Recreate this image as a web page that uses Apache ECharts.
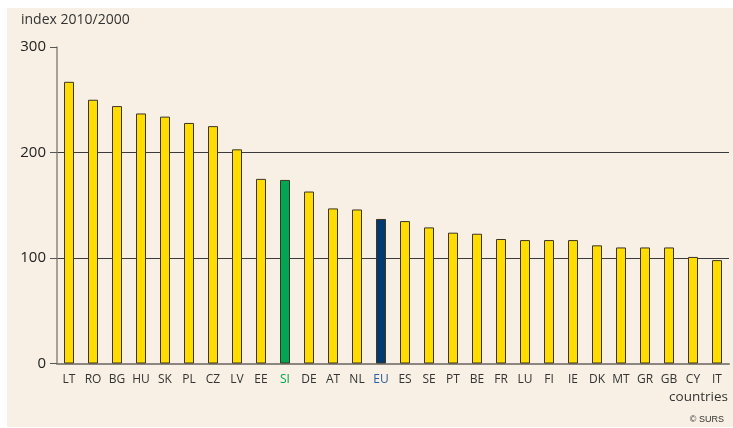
<!DOCTYPE html>
<html>
<head>
<meta charset="utf-8">
<script src="https://cdn.jsdelivr.net/npm/echarts@6/dist/echarts.min.js"></script>
<style>
  html, body { margin: 0; padding: 0; background: #fff; }
  #chart {
    position: absolute;
    left: 7px;
    top: 8px;
    width: 726px;
    height: 419px;
    background: #f8f0e4;
  }
</style>
</head>
<body>
<div id="chart"></div>
<script>
const countries = ['LT', 'RO', 'BG', 'HU', 'SK', 'PL', 'CZ', 'LV', 'EE', 'SI', 'DE', 'AT', 'NL', 'EU',
  'ES', 'SE', 'PT', 'BE', 'FR', 'LU', 'FI', 'IE', 'DK', 'MT', 'GR', 'GB', 'CY', 'IT']
const indexValues = [267, 250, 244, 237, 234, 228, 225, 203, 175, 174, 163, 147, 146, 137,
  135, 129, 124, 123, 118, 117, 117, 117, 112, 110, 110, 110, 101, 98]
const yTicks = [0, 100, 200, 300]

const barColors = { SI: '#00a651', EU: '#003a70' }
const labelColors = { SI: '#00a651', EU: '#2a5d9f' }

const chart = echarts.init(document.getElementById('chart'))

const fontFamily = '"Open Sans", "Noto Sans", sans-serif'

chart.setOption({
  animation: false,
  textStyle: { fontFamily },
  grid: {
    left: 50,
    right: 4,
    top: 39,
    bottom: 63.5
  },
  graphic: [
    {
      type: 'text',
      left: 14,
      top: 5,
      style: { text: 'index 2010/2000', fill: '#333', font: '14px ' + fontFamily }
    },
    {
      type: 'text',
      right: 5,
      top: 382,
      style: { text: 'countries', fill: '#333', font: '13.5px ' + fontFamily }
    },
    {
      type: 'text',
      right: 9,
      top: 407,
      style: { text: '© SURS', fill: '#333', font: '9px "Liberation Sans", Arial, sans-serif' }
    }
  ],
  xAxis: {
    type: 'category',
    data: countries,
    axisLine: { lineStyle: { color: '#8c8680', width: 2 } },
    axisTick: { show: false },
    axisLabel: {
      margin: 10,
      fontSize: 12,
      color: '#333',
      interval: 0,
      formatter(v) {
        return labelColors[v] ? '{' + v + '|' + v + '}' : v
      },
      rich: {
        SI: { color: labelColors.SI, fontSize: 12 },
        EU: { color: labelColors.EU, fontSize: 12 }
      }
    }
  },
  yAxis: {
    type: 'value',
    min: yTicks[0],
    max: yTicks[yTicks.length - 1],
    interval: 100,
    axisLine: { show: true, lineStyle: { color: '#8c8680', width: 1.5 } },
    axisTick: { show: true, length: 7, lineStyle: { color: '#555' } },
    axisLabel: { margin: 11, fontSize: 15, color: '#222' },
    splitLine: {
      show: true,
      showMinLine: false,
      showMaxLine: false,
      lineStyle: { color: '#3a3a3a', width: 1 }
    }
  },
  series: [{
    type: 'bar',
    barWidth: 10,
    data: indexValues.map((v, i) => ({
      value: v,
      itemStyle: { color: barColors[countries[i]] || '#ffdd00' }
    })),
    itemStyle: {
      borderColor: '#3d3523',
      borderWidth: 1
    }
  }]
})
</script>
</body>
</html>
